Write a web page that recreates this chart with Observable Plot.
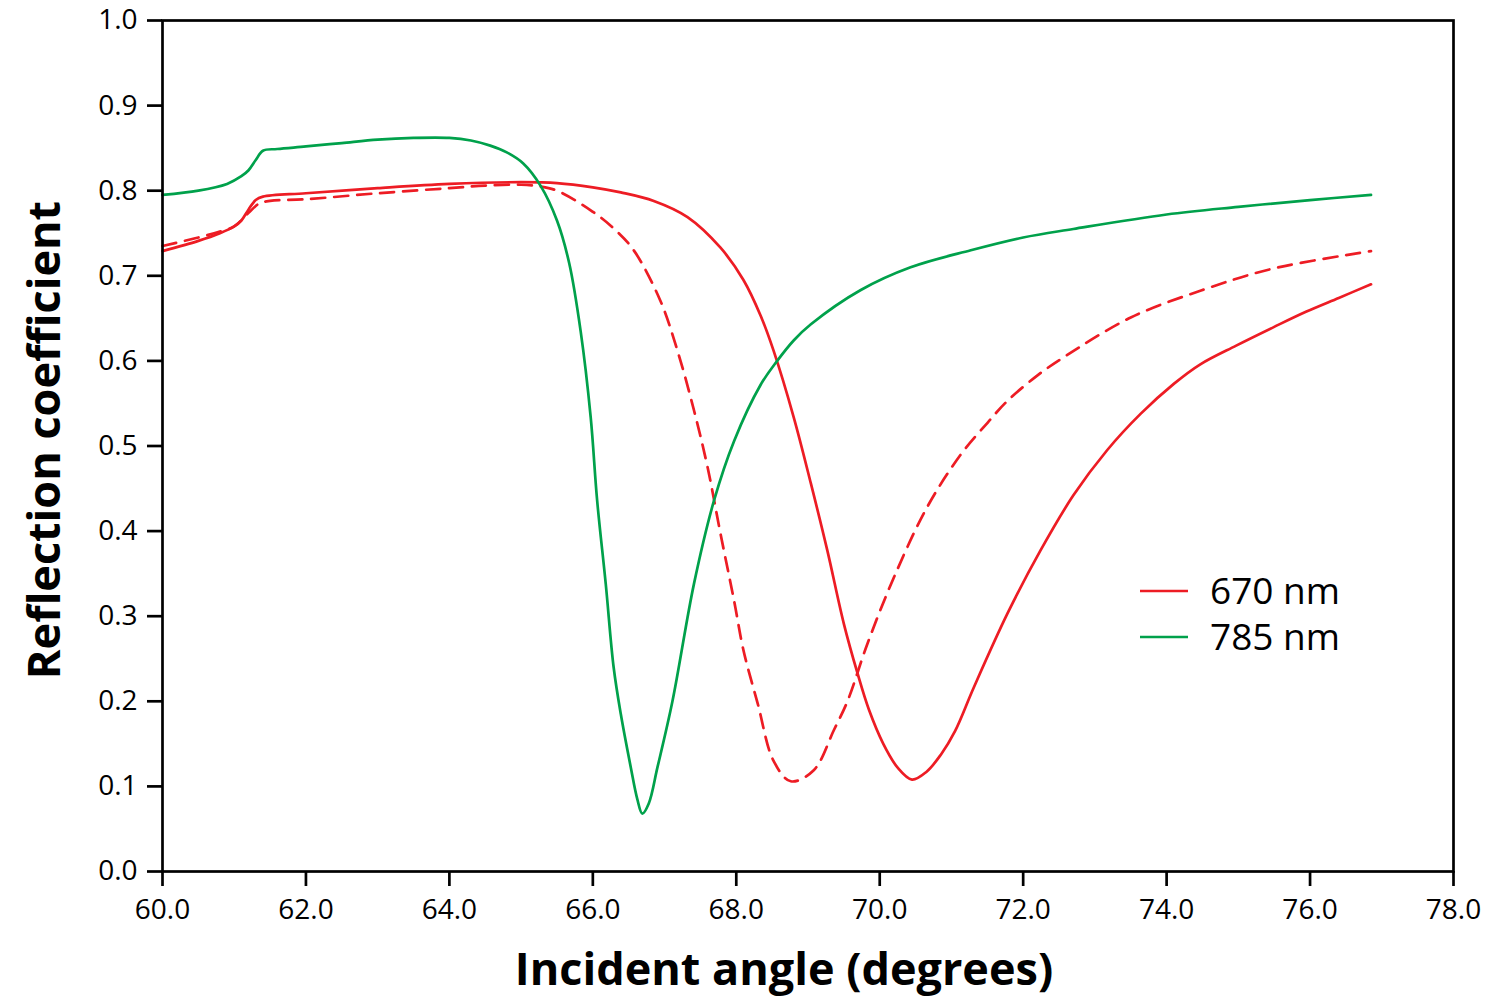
<!DOCTYPE html>
<html><head><meta charset="utf-8">
<script src="https://cdn.jsdelivr.net/npm/d3@7"></script>
<script src="https://cdn.jsdelivr.net/npm/@observablehq/plot@0.6"></script>
<style>
body{margin:0;background:#fff;}
#wrap{position:relative;width:1500px;height:1000px;font-family:"Open Sans",sans-serif;}
#wrap svg g[aria-label="x-axis tick label"], #wrap svg g[aria-label="y-axis tick label"]{font-size:28px;}
#wrap svg g[aria-label="x-axis tick label"] text, #wrap svg g[aria-label="y-axis tick label"] text{font-size:28px;}
</style></head><body><div id="wrap"></div>
<script>
const xTicks = [60, 62, 64, 66, 68, 70, 72, 74, 76, 78];
const yTicks = [0, 0.1, 0.2, 0.3, 0.4, 0.5, 0.6, 0.7, 0.8, 0.9, 1.0];
const seriesNames = ["670 nm", "785 nm"];
const seriesColors = ["#ed1c24", "#00a14b"];

// 670 nm, solid
const solid670Angle = [60.0,60.5,60.8,61.0,61.1,61.2,61.3,61.4,62.0,63.0,64.0,65.0,65.5,66.0,66.39,66.85,67.32,67.78,68.1,68.34,68.52,68.8,69.04,69.27,69.5,69.69,69.85,70.05,70.25,70.45,70.65,70.85,71.05,71.31,71.78,72.24,72.7,73.17,73.64,74.1,74.47,74.97,75.5,75.95,76.4,76.85];
const solid670Value = [0.729,0.741,0.750,0.758,0.765,0.778,0.789,0.793,0.797,0.803,0.808,0.810,0.809,0.804,0.798,0.788,0.769,0.733,0.695,0.653,0.612,0.534,0.456,0.377,0.291,0.233,0.190,0.150,0.122,0.108,0.117,0.137,0.165,0.216,0.303,0.377,0.442,0.495,0.538,0.573,0.596,0.618,0.640,0.658,0.674,0.690];

// 670 nm, dashed
const dashed670Angle = [60.0,60.5,60.8,61.0,61.2,61.35,61.5,62.0,63.0,64.0,64.5,65.0,65.27,65.5,65.97,66.3,66.57,66.94,67.18,67.41,67.6,67.78,67.97,68.1,68.3,68.52,68.76,69.08,69.36,69.55,69.83,70.2,70.66,71.13,71.5,71.78,72.2,72.56,73.5,74.49,75.46,76.85];
const dashed670Value = [0.735,0.745,0.752,0.758,0.774,0.785,0.788,0.790,0.797,0.803,0.806,0.807,0.805,0.800,0.777,0.755,0.730,0.671,0.612,0.542,0.475,0.397,0.318,0.260,0.197,0.130,0.106,0.119,0.166,0.200,0.268,0.346,0.428,0.490,0.527,0.553,0.583,0.604,0.651,0.683,0.708,0.729];

// 785 nm, solid
const solid785Angle = [60.0,60.5,60.9,61.1,61.2,61.3,61.4,61.6,62.0,62.5,63.0,63.5,64.0,64.3,64.57,64.8,65.03,65.27,65.5,65.67,65.83,65.97,66.06,66.18,66.29,66.39,66.53,66.62,66.69,66.78,66.9,67.11,67.41,67.69,67.97,68.34,68.57,68.8,69.04,69.73,70.43,71.27,72.0,72.7,74.0,75.0,76.0,76.85];
const solid785Value = [0.795,0.800,0.808,0.817,0.824,0.836,0.847,0.849,0.852,0.856,0.860,0.862,0.862,0.859,0.853,0.845,0.832,0.806,0.765,0.715,0.635,0.534,0.436,0.338,0.240,0.185,0.122,0.085,0.068,0.080,0.122,0.200,0.338,0.436,0.506,0.572,0.600,0.624,0.643,0.683,0.710,0.730,0.745,0.755,0.772,0.781,0.789,0.795];

const toRows = (xs, ys) => xs.map((a, i) => ({a, r: ys[i]}));
const rows670 = toRows(solid670Angle, solid670Value);
const rows670d = toRows(dashed670Angle, dashed670Value);
const rows785 = toRows(solid785Angle, solid785Value);

const fmt = d3.format(".1f");
const lw = 2.7;
const crv = "catmull-rom";

const chart = Plot.plot({
  width: 1500, height: 1000,
  marginLeft: 162, marginRight: 47, marginTop: 20, marginBottom: 129,
  x: {domain: [60, 78]},
  y: {domain: [0, 1]},
  style: {fontFamily: "'Open Sans', sans-serif", fontSize: "28px", color: "black", background: "white"},
  marks: [
    Plot.axisX({ticks: xTicks, tickFormat: fmt, tickSize: 15, tickPadding: 13, fontSize: 28, label: null, strokeWidth: lw}),
    Plot.axisY({ticks: yTicks, tickFormat: fmt, tickSize: 15, tickPadding: 10, fontSize: 28, label: null, strokeWidth: lw}),
    Plot.line(rows670d, {x: "a", y: "r", stroke: seriesColors[0], strokeWidth: lw, strokeDasharray: "14,9", curve: crv}),
    Plot.line(rows670, {x: "a", y: "r", stroke: seriesColors[0], strokeWidth: lw, curve: crv}),
    Plot.line(rows785, {x: "a", y: "r", stroke: seriesColors[1], strokeWidth: lw, curve: crv}),
    Plot.frame({stroke: "black", strokeWidth: lw})
  ]
});
document.getElementById("wrap").appendChild(chart);

const svg = d3.select(chart);
svg.append("text")
  .attr("x", 784).attr("y", 985)
  .attr("text-anchor", "middle")
  .style("font-family", "'Open Sans', sans-serif").style("font-weight", 700).style("font-size", "45px")
  .attr("fill", "black")
  .text("Incident angle (degrees)");
svg.append("text")
  .attr("transform", "translate(60,440) rotate(-90)")
  .attr("text-anchor", "middle")
  .style("font-family", "'Open Sans', sans-serif").style("font-weight", 700).style("font-size", "45px")
  .attr("fill", "black")
  .text("Reflection coefficient");

const leg = svg.append("g");
seriesNames.forEach((name, i) => {
  const y = 591 + i * 46;
  leg.append("line").attr("x1", 1140).attr("x2", 1188).attr("y1", y).attr("y2", y)
    .attr("stroke", seriesColors[i]).attr("stroke-width", lw);
  leg.append("text").attr("x", 1210).attr("y", y + 13)
    .attr("text-anchor", "start")
    .style("font-family", "'Open Sans', sans-serif").style("font-size", "37px")
    .attr("fill", "black").text(name);
});
</script>
</body></html>
